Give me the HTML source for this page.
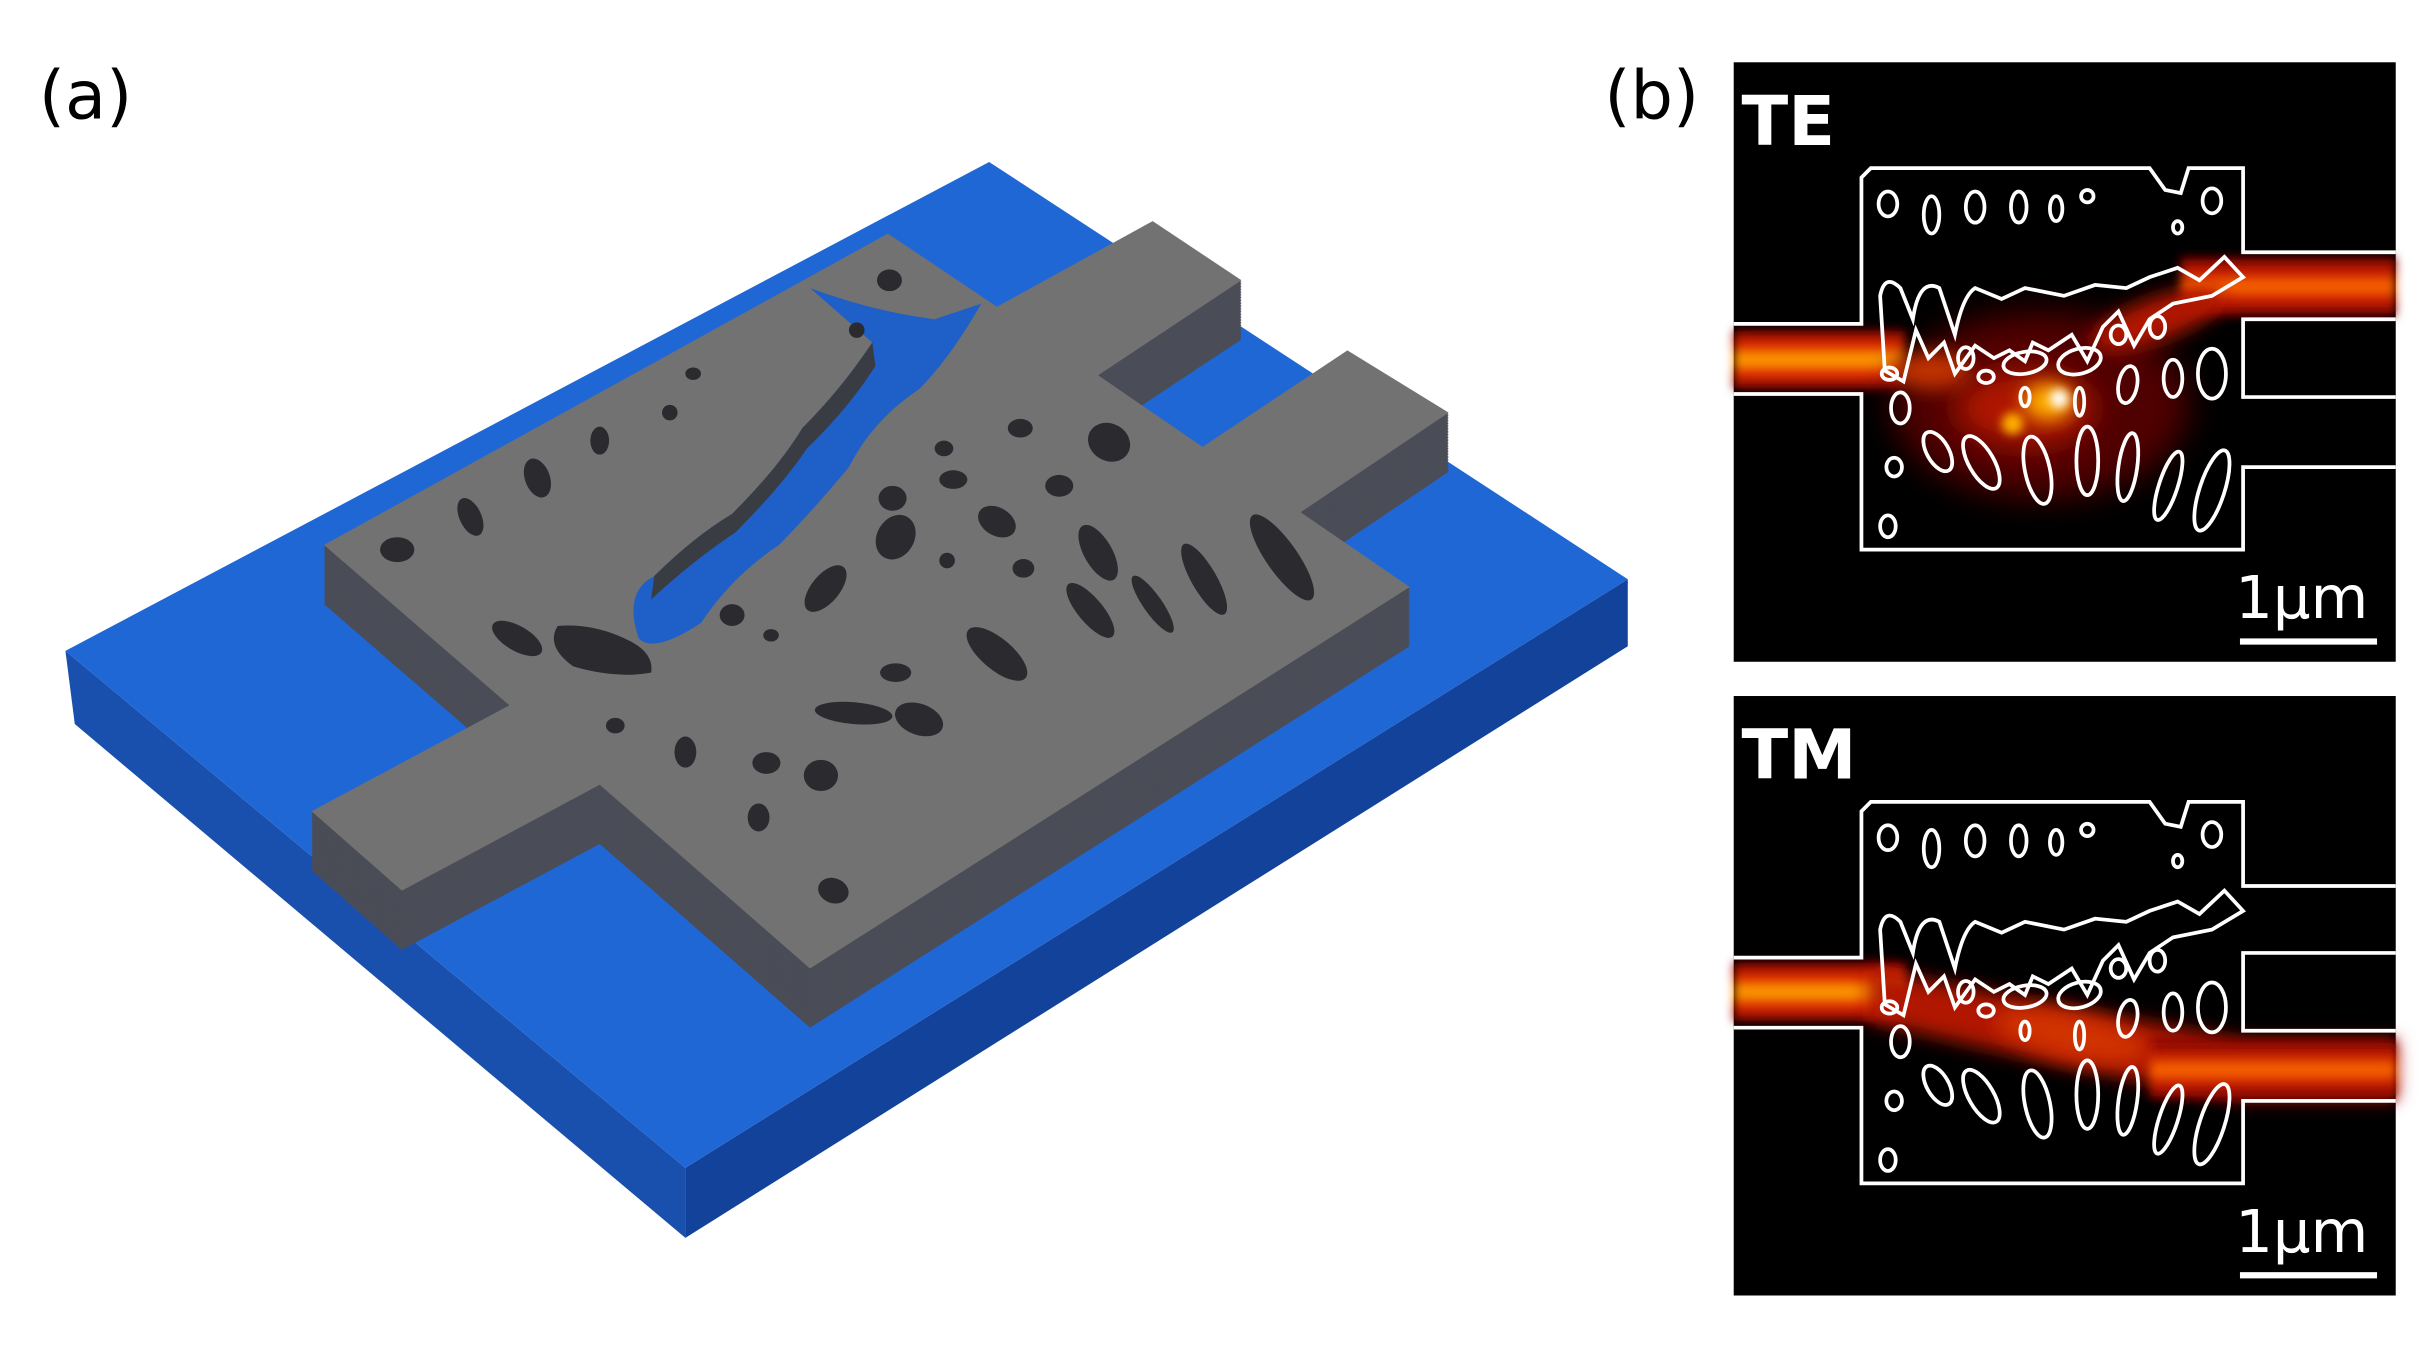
<!DOCTYPE html>
<html><head><meta charset="utf-8"><style>
html,body{margin:0;padding:0;background:#fff;}
svg{display:block;}
</style></head><body>
<svg width="2430" height="1350" viewBox="0 0 1560 867" preserveAspectRatio="none" xmlns="http://www.w3.org/2000/svg">
<defs>
  <filter id="blur6" x="-50%" y="-50%" width="200%" height="200%"><feGaussianBlur stdDeviation="6"/></filter>
  <filter id="blur10" x="-50%" y="-50%" width="200%" height="200%"><feGaussianBlur stdDeviation="10"/></filter>
  <filter id="blur3" x="-50%" y="-50%" width="200%" height="200%"><feGaussianBlur stdDeviation="3"/></filter>
  <linearGradient id="beamV" x1="0" y1="0" x2="0" y2="1">
    <stop offset="0" stop-color="#800000"/><stop offset="0.3" stop-color="#e83000"/><stop offset="0.5" stop-color="#ffb000"/><stop offset="0.7" stop-color="#e83000"/><stop offset="1" stop-color="#800000"/>
  </linearGradient>
  <linearGradient id="beamV2" x1="0" y1="0" x2="0" y2="1">
    <stop offset="0" stop-color="#700000"/><stop offset="0.3" stop-color="#d02000"/><stop offset="0.5" stop-color="#ff7000"/><stop offset="0.7" stop-color="#d02000"/><stop offset="1" stop-color="#700000"/>
  </linearGradient>
  <g id="slab">
    <polygon points="208,350 570,150 640,197 740,142 797,180 705,241 772,287 865,225 930,265 835,329 905,377 520,622 385,504 258,572 200,521 327,453"/>
  </g>
  <g id="cont" fill="none" stroke="#fff" stroke-width="2.4">
    <path d="M1113,208 H1195 V114 L1201,108 H1380 L1390,122 L1400,124 L1405,108 H1440 V162 H1538 M1538,205 H1440 V255 H1538 M1538,300 H1440 V353 H1195 V253 H1113"/>
    <ellipse cx="1212" cy="131" rx="6" ry="8"/>
    <ellipse cx="1240" cy="138" rx="5" ry="12"/>
    <ellipse cx="1268" cy="133" rx="6" ry="10"/>
    <ellipse cx="1296" cy="133" rx="5" ry="10"/>
    <ellipse cx="1320" cy="134" rx="4" ry="8"/>
    <ellipse cx="1340" cy="126" rx="4" ry="4"/>
    <ellipse cx="1420" cy="129" rx="6" ry="8"/>
    <ellipse cx="1398" cy="146" rx="3" ry="4"/>
    <path d="M1207,190 Q1210,175 1220,185 L1228,205 Q1232,178 1245,185 L1255,215 Q1260,190 1268,185 L1285,192 L1300,185 L1325,190 L1345,183 L1365,185 L1380,178 L1398,172 L1412,180 L1428,165 L1440,178 L1420,190 L1395,195 L1380,205 L1370,222 L1360,200 L1350,210 L1340,232 L1330,215 L1315,225 L1305,220 L1300,232 L1290,225 L1280,230 L1268,222 L1255,240 L1248,220 L1238,230 L1230,212 L1222,245 L1210,238 Z"/>
    <ellipse cx="1213" cy="240" rx="5" ry="4"/>
    <ellipse cx="1220" cy="262" rx="6" ry="10"/>
    <ellipse cx="1216" cy="300" rx="5" ry="6"/>
    <ellipse cx="1244" cy="290" rx="7" ry="14" transform="rotate(-30 1244 290)"/>
    <ellipse cx="1272" cy="297" rx="8" ry="19" transform="rotate(-30 1272 297)"/>
    <ellipse cx="1308" cy="302" rx="8" ry="22" transform="rotate(-12 1308 302)"/>
    <ellipse cx="1340" cy="296" rx="7" ry="22"/>
    <ellipse cx="1366" cy="300" rx="6" ry="22" transform="rotate(8 1366 300)"/>
    <ellipse cx="1392" cy="312" rx="6" ry="23" transform="rotate(18 1392 312)"/>
    <ellipse cx="1420" cy="315" rx="8" ry="27" transform="rotate(18 1420 315)"/>
    <ellipse cx="1212" cy="338" rx="5" ry="7"/>
    <ellipse cx="1300" cy="233" rx="14" ry="7" transform="rotate(-10 1300 233)"/>
    <ellipse cx="1335" cy="232" rx="14" ry="8" transform="rotate(-15 1335 232)"/>
    <ellipse cx="1366" cy="247" rx="6" ry="12" transform="rotate(10 1366 247)"/>
    <ellipse cx="1395" cy="243" rx="6" ry="12"/>
    <ellipse cx="1420" cy="240" rx="9" ry="16"/>
    <ellipse cx="1275" cy="242" rx="5" ry="4"/>
    <ellipse cx="1262" cy="230" rx="5" ry="7"/>
    <ellipse cx="1335" cy="258" rx="3" ry="9"/>
    <ellipse cx="1360" cy="215" rx="5" ry="6"/>
    <ellipse cx="1385" cy="210" rx="5" ry="7"/>
    <ellipse cx="1300" cy="255" rx="3" ry="6"/>
  </g>
</defs>

<!-- (a) substrate -->
<polygon points="42,418 440,750 440,795 48,465" fill="#1a50ad"/>
<polygon points="440,750 1045,372 1045,415 440,795" fill="#12429a"/>
<polygon points="42,418 635,104 1045,372 440,750" fill="#2067d6"/>

<!-- slab extrusion -->
<g fill="#4a4d57">
  <use href="#slab" y="38"/><use href="#slab" y="37"/><use href="#slab" y="36"/><use href="#slab" y="35"/><use href="#slab" y="34"/><use href="#slab" y="33"/><use href="#slab" y="32"/><use href="#slab" y="31"/><use href="#slab" y="30"/><use href="#slab" y="29"/><use href="#slab" y="28"/><use href="#slab" y="27"/><use href="#slab" y="26"/><use href="#slab" y="25"/><use href="#slab" y="24"/><use href="#slab" y="23"/><use href="#slab" y="22"/><use href="#slab" y="21"/><use href="#slab" y="20"/><use href="#slab" y="19"/><use href="#slab" y="18"/><use href="#slab" y="17"/><use href="#slab" y="16"/><use href="#slab" y="15"/><use href="#slab" y="14"/><use href="#slab" y="13"/><use href="#slab" y="12"/><use href="#slab" y="11"/><use href="#slab" y="10"/><use href="#slab" y="9"/><use href="#slab" y="8"/><use href="#slab" y="7"/><use href="#slab" y="6"/><use href="#slab" y="5"/><use href="#slab" y="4"/><use href="#slab" y="3"/><use href="#slab" y="2"/><use href="#slab" y="1"/>
</g>
<g fill="#727272"><use href="#slab"/></g>

<!-- blue channel through slab -->
<path d="M520,185 Q560,200 600,205 L630,195 Q610,230 590,250 Q560,270 545,300 Q520,330 500,350 Q470,370 450,400 Q420,420 410,410 Q400,380 420,370 Q445,345 470,330 Q500,300 515,275 Q540,250 560,220 Z" fill="#1f5fc8"/>
<path d="M560,220 Q540,250 515,275 Q500,300 470,330 Q445,345 420,370 L418,385 Q445,360 472,342 Q502,312 518,288 Q545,262 562,235 Z" fill="#3a3c44"/>
<path d="M405,412 Q420,420 418,432 Q395,436 368,428 Q350,415 358,402 Q382,400 405,412 Z" fill="#2b2b2f"/>

<g fill="#2b2b2f">
  <ellipse cx="255" cy="353" rx="11" ry="8"/>
  <ellipse cx="302" cy="332" rx="7" ry="13" transform="rotate(-25 302 332)"/>
  <ellipse cx="345" cy="307" rx="8" ry="13" transform="rotate(-20 345 307)"/>
  <ellipse cx="385" cy="283" rx="6" ry="9"/>
  <ellipse cx="430" cy="265" rx="5" ry="5"/>
  <ellipse cx="445" cy="240" rx="5" ry="4"/>
  <ellipse cx="550" cy="212" rx="5" ry="5"/>
  <ellipse cx="571" cy="180" rx="8" ry="7"/>
  <ellipse cx="655" cy="275" rx="8" ry="6"/>
  <ellipse cx="712" cy="284" rx="14" ry="12" transform="rotate(30 712 284)"/>
  <ellipse cx="606" cy="288" rx="6" ry="5"/>
  <ellipse cx="612" cy="308" rx="9" ry="6"/>
  <ellipse cx="573" cy="320" rx="9" ry="8"/>
  <ellipse cx="575" cy="345" rx="12" ry="15" transform="rotate(30 575 345)"/>
  <ellipse cx="640" cy="335" rx="13" ry="9" transform="rotate(30 640 335)"/>
  <ellipse cx="680" cy="312" rx="9" ry="7"/>
  <ellipse cx="608" cy="360" rx="5" ry="5"/>
  <ellipse cx="530" cy="378" rx="9" ry="18" transform="rotate(40 530 378)"/>
  <ellipse cx="657" cy="365" rx="7" ry="6"/>
  <ellipse cx="705" cy="355" rx="9" ry="20" transform="rotate(-30 705 355)"/>
  <ellipse cx="773" cy="372" rx="8" ry="26" transform="rotate(-30 773 372)"/>
  <ellipse cx="823" cy="358" rx="10" ry="33" transform="rotate(-35 823 358)"/>
  <ellipse cx="700" cy="392" rx="8" ry="22" transform="rotate(-40 700 392)"/>
  <ellipse cx="740" cy="388" rx="6" ry="22" transform="rotate(-35 740 388)"/>
  <ellipse cx="640" cy="420" rx="10" ry="24" transform="rotate(-50 640 420)"/>
  <ellipse cx="575" cy="432" rx="10" ry="6"/>
  <ellipse cx="470" cy="395" rx="8" ry="7"/>
  <ellipse cx="495" cy="408" rx="5" ry="4"/>
  <ellipse cx="548" cy="458" rx="25" ry="7" transform="rotate(5 548 458)"/>
  <ellipse cx="590" cy="462" rx="16" ry="10" transform="rotate(20 590 462)"/>
  <ellipse cx="395" cy="466" rx="6" ry="5"/>
  <ellipse cx="440" cy="483" rx="7" ry="10"/>
  <ellipse cx="492" cy="490" rx="9" ry="7"/>
  <ellipse cx="527" cy="498" rx="11" ry="10"/>
  <ellipse cx="487" cy="525" rx="7" ry="9"/>
  <ellipse cx="535" cy="572" rx="10" ry="8" transform="rotate(20 535 572)"/>
  <ellipse cx="332" cy="410" rx="18" ry="8" transform="rotate(30 332 410)"/>
</g>

<!-- (b) panels -->
<rect x="1113" y="40" width="425" height="385" fill="#000"/>
<rect x="1113" y="447" width="425" height="385" fill="#000"/>

<!-- TE field -->
<g>
  <rect x="1113" y="212" width="110" height="38" fill="url(#beamV)" filter="url(#blur3)"/>
  <rect x="1400" y="165" width="138" height="38" fill="url(#beamV2)" filter="url(#blur3)"/>
  <ellipse cx="1310" cy="260" rx="95" ry="60" fill="#500400" filter="url(#blur10)"/>
  <ellipse cx="1300" cy="262" rx="45" ry="25" fill="#b01800" filter="url(#blur10)"/>
  <ellipse cx="1385" cy="205" rx="45" ry="14" fill="#b01800" filter="url(#blur6)" transform="rotate(-20 1385 205)"/>
  <ellipse cx="1240" cy="238" rx="25" ry="12" fill="#c03000" filter="url(#blur6)"/>
  <ellipse cx="1315" cy="258" rx="16" ry="12" fill="#ffb000" filter="url(#blur6)"/>
  <circle cx="1322" cy="256" r="6" fill="#fff" filter="url(#blur3)"/>
  <ellipse cx="1292" cy="272" rx="7" ry="7" fill="#ffb000" filter="url(#blur3)"/>
</g>
<!-- TM field -->
<g>
  <rect x="1113" y="618" width="110" height="38" fill="url(#beamV)" filter="url(#blur3)"/>
  <polygon points="1200,622 1330,647 1440,668 1538,668 1538,706 1440,706 1330,686 1200,656" fill="#b01800" filter="url(#blur6)"/>
  <rect x="1380" y="668" width="158" height="38" fill="url(#beamV2)" filter="url(#blur3)"/>
  <ellipse cx="1330" cy="665" rx="50" ry="14" fill="#d03000" filter="url(#blur6)" transform="rotate(12 1330 665)"/>
</g>

<use href="#cont"/>
<use href="#cont" y="407"/>

<g font-family="'DejaVu Sans','Liberation Sans',sans-serif" fill="#000">
  <text x="25" y="76" font-size="43">(a)</text>
  <text x="1030" y="76" font-size="43">(b)</text>
</g>
<g font-family="'DejaVu Sans','Liberation Sans',sans-serif" fill="#fff">
  <text x="1118" y="93" font-size="44" font-weight="bold">TE</text>
  <text x="1118" y="500" font-size="44" font-weight="bold">TM</text>
  <text x="1435" y="397" font-size="38">1µm</text>
  <text x="1435" y="804" font-size="38">1µm</text>
</g>
<rect x="1438" y="410" width="88" height="4" fill="#fff"/>
<rect x="1438" y="817" width="88" height="4" fill="#fff"/>
</svg>
</body></html>
